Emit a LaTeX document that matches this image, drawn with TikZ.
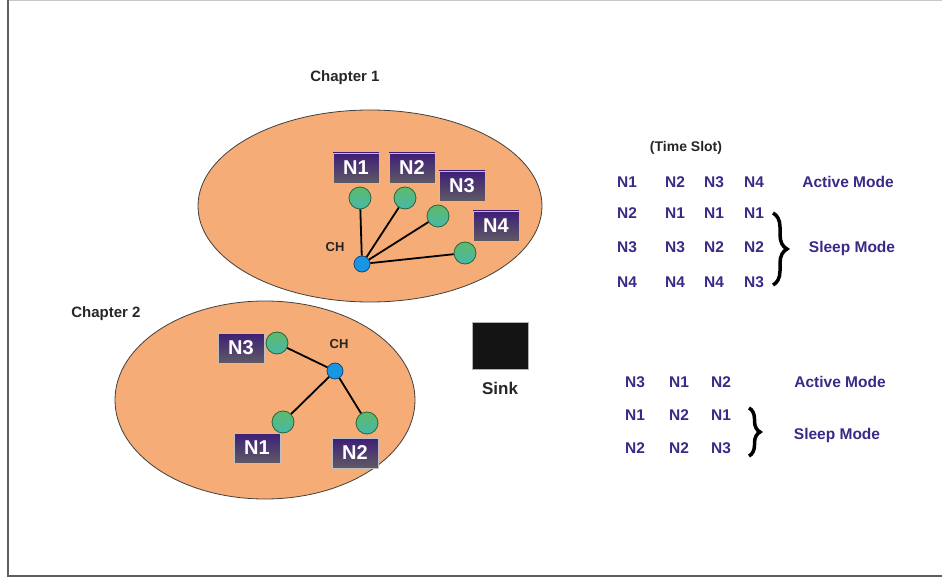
\documentclass[tikz,border=0pt]{standalone}
\usepackage{fontspec}
\setmainfont{Liberation Sans}
\usetikzlibrary{decorations.pathreplacing,shapes.geometric}
\definecolor{peach}{RGB}{245,172,118}
\definecolor{boxtop}{RGB}{62,30,120}
\definecolor{boxbot}{RGB}{95,90,100}
\definecolor{gtop}{RGB}{95,185,105}
\definecolor{gbot}{RGB}{70,185,170}
\definecolor{gedge}{RGB}{40,100,60}
\definecolor{chfill}{RGB}{25,150,225}
\definecolor{chedge}{RGB}{20,70,130}
\definecolor{tabcol}{RGB}{60,40,135}
\definecolor{framecol}{RGB}{95,95,95}
\tikzset{
  cluster/.style={ellipse, draw=black!75, fill=peach, line width=0.8pt, inner sep=0},
  nlabel/.style={rectangle, minimum width=46pt, minimum height=30pt, inner sep=0,
    top color=boxtop, bottom color=boxbot, draw=gray!50, line width=0.6pt,
    text=white, font=\fontsize{20}{20}\selectfont\bfseries},
  sensor/.style={circle, minimum size=22pt, inner sep=0, draw=gedge, line width=0.8pt,
    top color=gtop, bottom color=gbot},
  headnode/.style={circle, minimum size=16pt, inner sep=0, draw=chedge, line width=0.8pt, fill=chfill},
  link/.style={line width=1.8pt, black},
  tab/.style={text=tabcol, font=\fontsize{15.5}{15.5}\selectfont\bfseries},
  plain/.style={text=black!85, font=\fontsize{#1}{#1}\selectfont\bfseries},
  bracestyle/.style={decorate, decoration={brace, amplitude=#1}, line width=3.5pt, black}
}
\begin{document}
\begin{tikzpicture}[x=1pt, y=-1pt]
\useasboundingbox (0,0) rectangle (942,577);
% frame
\draw[gray!45, line width=1pt] (8,0.5) -- (942,0.5);
\draw[framecol, line width=1.6pt] (8,0) -- (8,576) -- (942,576);

% chapter 1
\node[plain=15] (t1) at (345,78) {Chapter 1};
\node[cluster, minimum width=344pt, minimum height=192pt] (c1) at (370,206) {};
\node[nlabel] (l11) at (356,168) {N1};
\node[nlabel] (l12) at (412,168) {N2};
\node[nlabel] (l13) at (462,186) {N3};
\node[nlabel] (l14) at (496,226) {N4};
\node[sensor] (s11) at (360,198) {};
\node[sensor] (s12) at (405,198) {};
\node[sensor] (s13) at (438,216) {};
\node[sensor] (s14) at (465,253) {};
\node[headnode] (h1) at (362,264) {};
\node[plain=13] (ch1) at (335,247) {CH};
\foreach \s in {s11,s12,s13,s14} \draw[link] (h1) -- (\s);

% chapter 2
\node[plain=15] (t2) at (106,314) {Chapter 2};
\node[cluster, minimum width=300pt, minimum height=198pt] (c2) at (265,400) {};
\node[nlabel] (l23) at (241,348) {N3};
\node[nlabel] (l21) at (257,448) {N1};
\node[nlabel] (l22) at (355,453) {N2};
\node[sensor] (s23) at (277,343) {};
\node[sensor] (s21) at (283,422) {};
\node[sensor] (s22) at (367,423) {};
\node[headnode] (h2) at (335,371) {};
\node[plain=13] (ch2) at (339,344) {CH};
\foreach \s in {s21,s22,s23} \draw[link] (h2) -- (\s);

% sink
\node[rectangle, minimum width=56pt, minimum height=47pt, inner sep=0, fill=black!92, draw=gray!60, line width=0.6pt] (sink) at (500,345.5) {};
\node[plain=17] (sinkl) at (500,388) {Sink};

% table 1
\node[plain=14] (ts) at (686,148) {(Time Slot)};
\foreach \r/\y/\a/\b/\c/\d in {1/182/N1/N2/N3/N4, 2/213/N2/N1/N1/N1, 3/247/N3/N3/N2/N2, 4/282/N4/N4/N4/N3}{
  \node[tab] (a\r1) at (627,\y) {\a};
  \node[tab] (a\r2) at (675,\y) {\b};
  \node[tab] (a\r3) at (714,\y) {\c};
  \node[tab] (a\r4) at (754,\y) {\d};
}
\node[tab] (am1) at (848,182) {Active Mode};
\node[tab] (sm1) at (852,248) {Sleep Mode};
\coordinate (b1a) at (773,213);
\coordinate (b1b) at (773,285);
\draw[bracestyle=14pt] (b1a) -- (b1b);

% table 2
\foreach \r/\y/\a/\b/\c in {1/382/N3/N1/N2, 2/415/N1/N2/N1, 3/448/N2/N2/N3}{
  \node[tab] (b\r1) at (635,\y) {\a};
  \node[tab] (b\r2) at (679,\y) {\b};
  \node[tab] (b\r3) at (721,\y) {\c};
}
\node[tab] (am2) at (840,382) {Active Mode};
\node[tab] (sm2) at (837,435) {Sleep Mode};
\coordinate (b2a) at (749,408);
\coordinate (b2b) at (749,456);
\draw[bracestyle=11pt] (b2a) -- (b2b);
\end{tikzpicture}
\end{document}
